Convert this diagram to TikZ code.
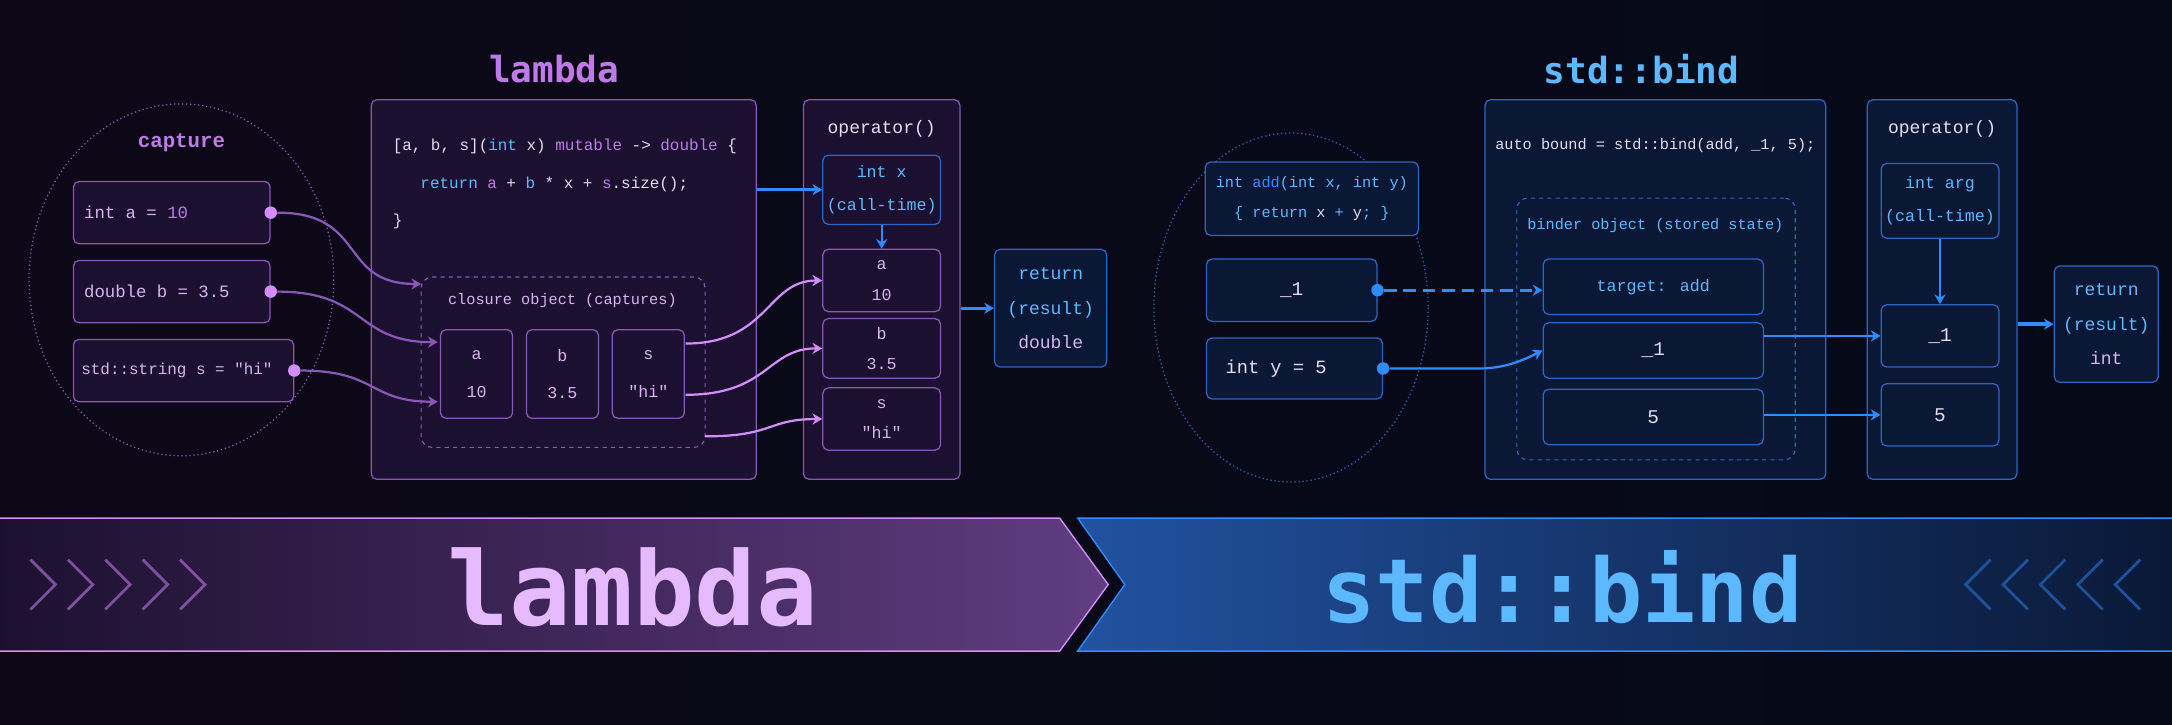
\documentclass[tikz,border=0pt]{standalone}
\usepackage{fontspec}
\setmainfont{Liberation Mono}
\newfontfamily\ttlfont{DejaVu Sans Mono}
\usetikzlibrary{arrows.meta,calc}
\definecolor{bgA}{HTML}{0D0818}
\definecolor{bgB}{HTML}{050A18}
\definecolor{pline}{HTML}{8A56B8}
\definecolor{pfill}{HTML}{1C1030}
\definecolor{ptext}{HTML}{D8B4F0}
\definecolor{pkey}{HTML}{C07AE8}
\definecolor{pglow}{HTML}{D48CFF}
\definecolor{bline}{HTML}{2A66C8}
\definecolor{bfill}{HTML}{0A1836}
\definecolor{btext}{HTML}{5CB8FF}
\definecolor{bglow}{HTML}{2E8CFF}
\definecolor{wtext}{HTML}{E4DEF0}
\newcommand{\dq}{\textquotedbl}
\tikzset{
  pbox/.style={draw=pline, fill=pfill, rounded corners=4pt, line width=0.9pt,
    text=ptext, font=\fontsize{12}{27}\selectfont, align=center, inner sep=0pt},
  bbox/.style={draw=bline, fill=bfill, rounded corners=4pt, line width=0.9pt,
    text=btext, font=\fontsize{12}{27}\selectfont, align=center, inner sep=0pt},
  lbl/.style={anchor=west, inner sep=0pt, font=\fontsize{12.5}{12.5}\selectfont},
  pwire/.style={draw=pglow, line width=1.6pt, -{Stealth[length=7pt,width=8pt]}},
  bwire/.style={draw=bglow, line width=1.6pt, -{Stealth[length=7pt,width=8pt]}},
  dot/.style={circle, inner sep=0pt, minimum size=9pt},
}
\begin{document}
\begin{tikzpicture}[x=1pt,y=-1pt]
        \shade[left color=bgA, right color=bgB] (0,0) rectangle (1568,523);
        \useasboundingbox (0,0) rectangle (1568,523);

        % lambda side
        \node[text=pkey, font=\ttlfont\bfseries\fontsize{26}{26}\selectfont] (lamtitle) at (400,50) {lambda};
        \draw[pline, dotted, line width=0.9pt] (131,202) ellipse [x radius=110, y radius=127];
        \node[text=pkey, font=\bfseries\fontsize{15}{15}\selectfont] (capt) at (131,103) {capture};
        \node[pbox, minimum width=142, minimum height=45] (ca) at (124,153.5) {};
        \node[pbox, minimum width=142, minimum height=45] (cb) at (124,210.5) {};
        \node[pbox, minimum width=159, minimum height=45] (cs) at (132.5,267.5) {};
        \node[lbl, text=ptext] (cat) at ($(ca.west)+(8,0)$) {int a = \textcolor{pkey}{10}};
        \node[lbl, text=ptext] (cbt) at ($(cb.west)+(8,0)$) {double b = 3.5};
        \node[lbl, text=ptext, font=\fontsize{11.5}{11.5}\selectfont] (cst) at ($(cs.west)+(6,0)$) {std::string s = \dq hi\dq};

        \node[pbox, minimum width=278, minimum height=274] (lam) at (407,209) {};
        \node[anchor=west, text=wtext, font=\fontsize{11.5}{11.5}\selectfont] (code1) at (280,106)
            {[a, b, s](\textcolor{btext}{int} x) \textcolor{pkey}{mutable} -> \textcolor{pkey}{double} \{};
        \node[anchor=west, text=wtext, font=\fontsize{11.5}{11.5}\selectfont] (code2) at (300,133)
            {\textcolor{btext}{return} \textcolor{pkey}{a} + \textcolor{btext}{b} * x + \textcolor{pkey}{s}.size();};
        \node[anchor=west, text=wtext, font=\fontsize{11.5}{11.5}\selectfont] (code3) at (280,160) {\}};

        \node[draw=pline, dashed, rounded corners=8pt, line width=0.8pt, minimum width=205, minimum height=123] (clos) at (406.5,261.5) {};
        \node[text=ptext, font=\fontsize{11}{11}\selectfont] (clostitle) at (406,217) {closure object (captures)};
        \node[pbox, minimum width=52, minimum height=64] (cella) at (344,270) {a\\10};
        \node[pbox, minimum width=52, minimum height=64] (cellb) at (406,270) {b\\3.5};
        \node[pbox, minimum width=52, minimum height=64] (cells) at (468,270) {s\\\dq hi\dq};

        \node[pbox, minimum width=113, minimum height=274] (op) at (636.5,209) {};
        \node[text=wtext, font=\fontsize{13}{13}\selectfont] (optitle) at (636.5,93) {operator()};
        \node[bbox, fill=pfill, minimum width=85, minimum height=50, font=\fontsize{12}{24}\selectfont] (opx) at (636.5,137) {int x\\(call-time)};
        \node[pbox, minimum width=85, minimum height=45, font=\fontsize{12}{22}\selectfont] (opa) at (636.5,202.5) {a\\10};
        \node[pbox, minimum width=85, minimum height=43, font=\fontsize{12}{22}\selectfont] (opb) at (636.5,251.5) {b\\3.5};
        \node[pbox, minimum width=85, minimum height=45, font=\fontsize{12}{22}\selectfont] (ops) at (636.5,302.5) {s\\\dq hi\dq};
        \node[bbox, minimum width=81, minimum height=85, font=\fontsize{13}{25}\selectfont] (ret) at (758.5,222.5) {return\\(result)\\\textcolor{ptext}{double}};

        % capture wires
        \node[dot, fill=pglow] (da) at (ca.east) {};
        \node[dot, fill=pglow] (db) at (cb.east) {};
        \node[dot, fill=pglow] (ds) at (cs.east) {};
        \coordinate (ina) at (304,205);
        \coordinate (inb) at (316,247);
        \coordinate (ins) at (316,290);
        \draw[pwire, draw=pline] (da) .. controls +(70,0) and +(-60,0) .. (ina);
        \draw[pwire, draw=pline] (db) .. controls +(70,0) and +(-60,0) .. (inb);
        \draw[pwire, draw=pline] (ds) .. controls +(60,0) and +(-50,0) .. (ins);
        \coordinate (outa) at (495,248);
        \coordinate (outb) at (495,285);
        \coordinate (outs) at (509,315);
        \draw[pwire] (outa) .. controls +(60,0) and +(-40,0) .. (opa.west);
        \draw[pwire] (outb) .. controls +(60,0) and +(-40,0) .. (opb.west);
        \draw[pwire] (outs) .. controls +(50,0) and +(-40,0) .. (ops.west);
        \coordinate (lamout) at (lam.east |- opx.west);
        \draw[bwire, line width=2.4pt] (lamout) -- (opx.west);
        \draw[bwire, line width=1.2pt] (opx.south) -- (opa.north);
        \draw[bwire, line width=2.4pt] (op.east |- ret.west) -- (ret.west);

        % std::bind side
        \node[text=btext, font=\ttlfont\bfseries\fontsize{26}{26}\selectfont] (bndtitle) at (1185,50) {std::bind};
        \draw[bline, dotted, line width=0.9pt] (932,222) ellipse [x radius=99, y radius=126];
        \node[bbox, minimum width=154, minimum height=53, font=\fontsize{11}{22}\selectfont] (addf) at (947,143.5)
            {int \textcolor{bglow}{add}(int x, int y)\\\{ return \textcolor{wtext}{x} + \textcolor{wtext}{y}; \}};
        \node[bbox, minimum width=123, minimum height=45, text=wtext, font=\fontsize{14}{14}\selectfont] (u1) at (932.5,209.5) {\_1};
        \node[bbox, minimum width=127, minimum height=44] (iy) at (934.5,266) {};
        \node[lbl, text=wtext, font=\fontsize{13.5}{13.5}\selectfont] (iyt) at ($(iy.west)+(14,0)$) {int y = 5};

        \node[bbox, minimum width=246, minimum height=274] (bnd) at (1195,209) {};
        \node[text=wtext, font=\fontsize{11}{11}\selectfont] (bcode) at (1195,105) {auto bound = std::bind(add, \_1, 5);};
        \node[draw=bline, dashed, rounded corners=8pt, line width=0.8pt, minimum width=201, minimum height=189] (binder) at (1195.5,237.5) {};
        \node[text=btext, font=\fontsize{11}{11}\selectfont] (bindtitle) at (1195,163) {binder object (stored state)};
        \node[bbox, minimum width=159, minimum height=40] (tgt) at (1193.5,207) {target: add};
        \node[bbox, minimum width=159, minimum height=40, text=wtext, font=\fontsize{14}{14}\selectfont] (b1) at (1193.5,253) {\_1};
        \node[bbox, minimum width=159, minimum height=40, text=wtext, font=\fontsize{14}{14}\selectfont] (b5) at (1193.5,301) {5};

        \node[bbox, minimum width=108, minimum height=274] (op2) at (1402,209) {};
        \node[text=wtext, font=\fontsize{13}{13}\selectfont] (op2title) at (1402,93) {operator()};
        \node[bbox, minimum width=85, minimum height=54, font=\fontsize{12}{24}\selectfont] (iarg) at (1400.5,145) {int arg\\(call-time)};
        \node[bbox, minimum width=85, minimum height=45, text=wtext, font=\fontsize{14}{14}\selectfont] (o1) at (1400.5,242.5) {\_1};
        \node[bbox, minimum width=85, minimum height=45, text=wtext, font=\fontsize{14}{14}\selectfont] (o5) at (1400.5,299.5) {5};
        \node[bbox, minimum width=75, minimum height=84, font=\fontsize{13}{25}\selectfont] (ret2) at (1520.5,234) {return\\(result)\\\textcolor{ptext}{int}};

        % bind wires
        \node[dot, fill=bglow] (du) at (u1.east) {};
        \node[dot, fill=bglow] (dy) at (iy.east) {};
        \draw[bwire, dashed, dash pattern=on 9pt off 5pt, line width=2.2pt] (du) -- (tgt.west |- du);
        \draw[bwire] (dy) -- ++(70,0) .. controls +(20,0) and +(-10,5) .. (b1.west);
        \draw[bwire] (b1.east |- o1.west) -- (o1.west);
        \draw[bwire] (b5.east |- o5.west) -- (o5.west);
        \draw[bwire, line width=1.2pt] (iarg.south) -- (o1.north);
        \draw[bwire, line width=2.4pt] (op2.east |- ret2.west) -- (ret2.west);

        % banner
        \shade[left color=pfill, right color=pline!70!black, draw=pglow, line width=1pt]
            (-2,374) -- (765,374) -- (800,422) -- (765,470) -- (-2,470) -- cycle;
        \shade[left color=bline!80!black, right color=bfill, draw=bglow, line width=1pt]
            (778,374) -- (1570,374) -- (1570,470) -- (778,470) -- (812,422) -- cycle;
        \foreach \i in {0,...,4}{
            \draw[pkey!60!pfill, line width=2pt] (22+\i*27,404) -- (40+\i*27,422) -- (22+\i*27,440);
            \draw[bglow!50!bfill, line width=2pt] (1545-\i*27,404) -- (1527-\i*27,422) -- (1545-\i*27,440);
        }
        \node[text=pglow!60!white, font=\ttlfont\bfseries\fontsize{74}{74}\selectfont] (banl) at (457,424) {lambda};
        \node[text=btext, font=\ttlfont\bfseries\fontsize{64}{64}\selectfont] (banr) at (1128,424) {std::bind};
    \end{tikzpicture}
\end{document}
